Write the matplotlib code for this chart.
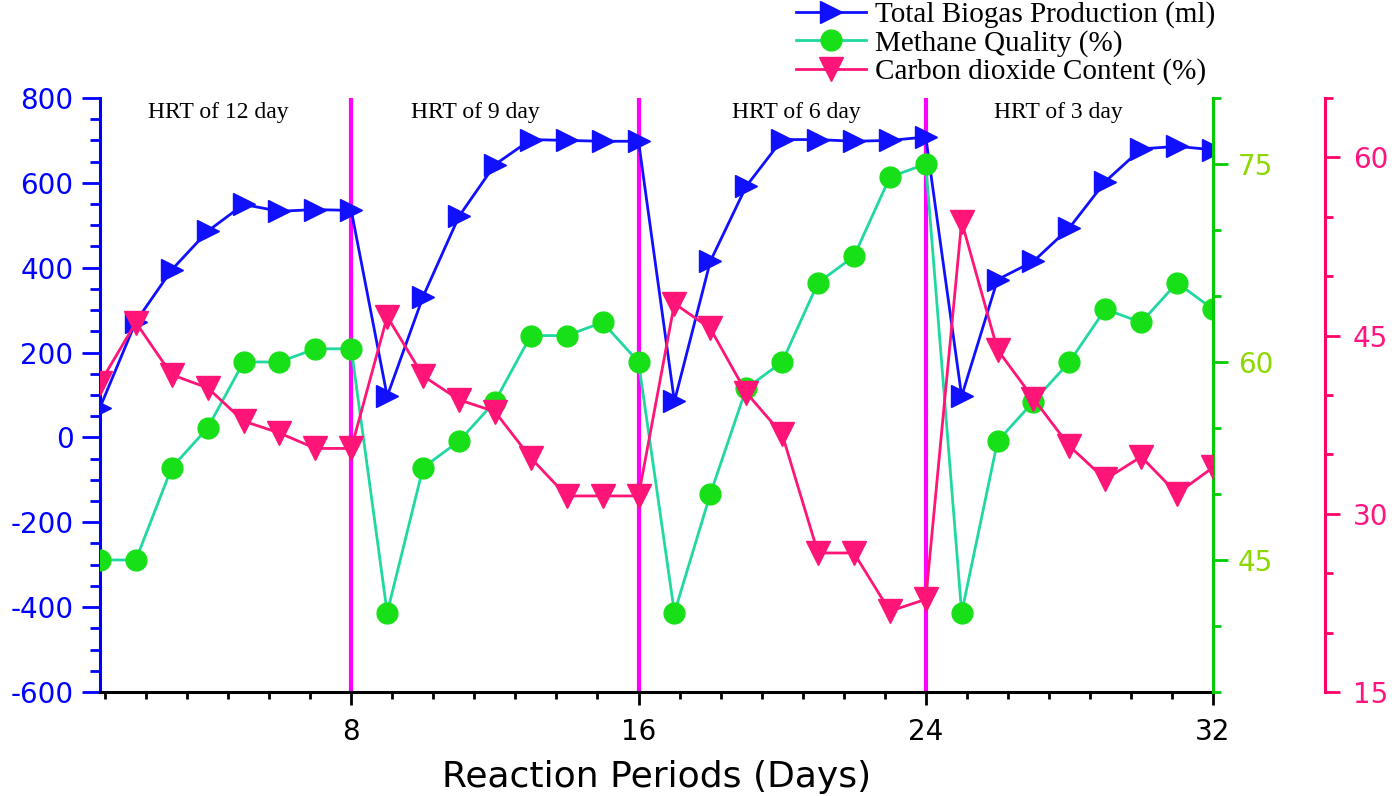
import numpy as np
import matplotlib.pyplot as plt
from matplotlib.ticker import MultipleLocator, FixedLocator

plt.rcParams['axes.unicode_minus'] = False

# data (day 1..32)
days = np.arange(1, 33)
biogas = [70, 273, 395, 486, 549, 533, 537, 535, 97, 332, 521, 643, 702, 700, 698, 698,
          85, 415, 592, 702, 702, 698, 700, 708, 97, 372, 415, 494, 603, 680, 686, 678]
methane = [45, 45, 52, 55, 60, 60, 61, 61, 41, 52, 54, 57, 62, 62, 63, 60,
           41, 50, 58, 60, 66, 68, 74, 75, 41, 54, 57, 60, 64, 63, 66, 64]
co2 = [41, 46.1, 41.7, 40.6, 37.8, 36.8, 35.5, 35.5, 46.6, 41.6, 39.6, 38.6, 34.7, 31.5, 31.5, 31.5,
       47.7, 45.6, 40.2, 36.7, 26.7, 26.7, 21.8, 22.8, 54.6, 43.8, 39.7, 35.7, 32.9, 34.8, 31.7, 33.9]

hrt_days = [8, 16, 24]
hrt_labels = ["HRT of 12 day", "HRT of 9 day", "HRT of 6 day", "HRT of 3 day"]
hrt_label_x = [4.3, 11.45, 20.4, 27.7]

blue = '#1010FF'
green_line = '#20D8A0'
green_mark = '#18E018'
pink = '#FF1477'

fig = plt.figure(figsize=(13.92, 7.96), dpi=100)
ax = fig.add_axes([0.0718, 0.1307, 0.7996, 0.7462])
ax2 = ax.twinx()
ax3 = ax.twinx()

# period separators
for d in hrt_days:
    ax.axvline(d, color='#FF00FF', lw=3, zorder=1)

l1, = ax.plot(days, biogas, color=blue, lw=2, marker='>', ms=16, mfc=blue, mec=blue, zorder=3)
l2, = ax2.plot(days, methane, color=green_line, lw=2, marker='o', ms=15, mfc=green_mark, mec=green_mark)
l3, = ax3.plot(days, co2, color=pink, lw=2, marker='v', ms=17, mfc=pink, mec=pink)

for lab, xx in zip(hrt_labels, hrt_label_x):
    ax.text(xx, 765, lab, ha='center', va='center', fontsize=17, family='Liberation Serif')

# x axis
ax.set_xlim(1, 32)
ax.xaxis.set_major_locator(FixedLocator([8, 16, 24, 32]))
ax.xaxis.set_minor_locator(MultipleLocator(8 / 7))
ax.tick_params(axis='x', which='major', length=9, width=2, direction='out', labelsize=20, pad=10, colors='black')
ax.tick_params(axis='x', which='minor', length=5, width=2, direction='out')
ax.set_xlabel("Reaction Periods (Days)", fontsize=26, labelpad=10)

# left axis
ax.set_ylim(-600, 800)
ax.yaxis.set_major_locator(MultipleLocator(200))
ax.yaxis.set_minor_locator(MultipleLocator(50))
ax.tick_params(axis='y', which='major', length=13, width=2, labelsize=20, pad=6, colors='#0000FF')
ax.tick_params(axis='y', which='minor', length=7, width=2, colors='#0000FF')
ax.spines['left'].set_color('#0000FF')
ax.spines['left'].set_linewidth(2.2)
ax.spines['bottom'].set_linewidth(2.2)
ax.spines['top'].set_visible(False)
ax.spines['right'].set_visible(False)

# green axis
ax2.set_ylim(35, 80)
ax2.yaxis.set_major_locator(FixedLocator([45, 60, 75]))
ax2.yaxis.set_minor_locator(MultipleLocator(5))
ax2.tick_params(axis='y', which='major', length=11, width=2, labelsize=20, pad=7, color='#00CC00', labelcolor='#8CD800')
ax2.tick_params(axis='y', which='minor', length=6, width=2, color='#00CC00')
for s in ['left', 'top', 'bottom']:
    ax2.spines[s].set_visible(False)
ax2.spines['right'].set_color('#00CC00')
ax2.spines['right'].set_linewidth(2.2)

# pink axis
ax3.set_ylim(15, 65)
ax3.yaxis.set_major_locator(FixedLocator([15, 30, 45, 60]))
ax3.yaxis.set_minor_locator(MultipleLocator(5))
ax3.tick_params(axis='y', which='major', length=11, width=2, labelsize=20, pad=9, color='#FF0066', labelcolor='#FF1480')
ax3.tick_params(axis='y', which='minor', length=6, width=2, color='#FF0066')
for s in ['left', 'top', 'bottom']:
    ax3.spines[s].set_visible(False)
ax3.spines['right'].set_position(('axes', 1.1006))
ax3.spines['right'].set_color('#FF0066')
ax3.spines['right'].set_linewidth(2.2)

fig.legend([l1, l2, l3],
           ["Total Biogas Production (ml)", "Methane Quality (%)", "Carbon dioxide Content (%)"],
           loc='upper left', bbox_to_anchor=(795 / 1392, 1.0), frameon=False,
           prop={'family': 'Liberation Serif', 'size': 21}, handlelength=2.4,
           handletextpad=0.3, labelspacing=0.05, borderpad=0, borderaxespad=0.05)

fig.savefig('out.png', dpi=100)
